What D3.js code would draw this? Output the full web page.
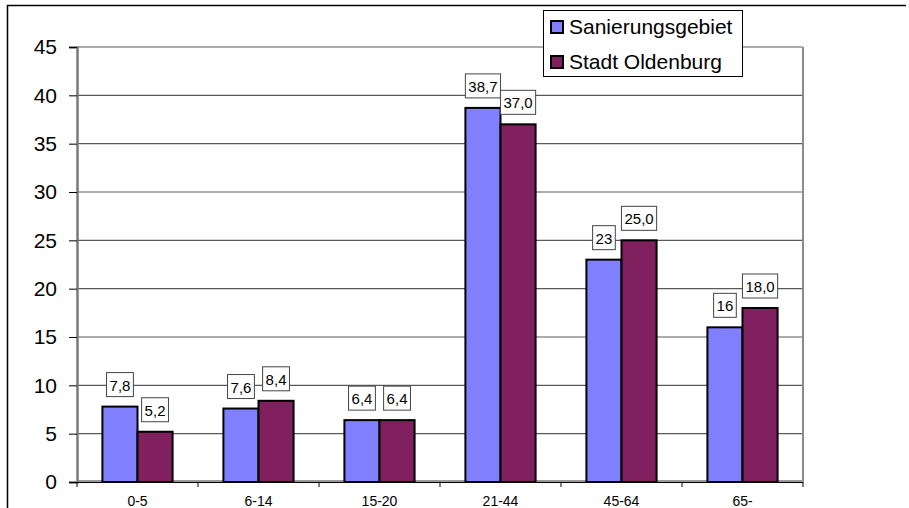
<!DOCTYPE html>
<html>
<head>
<meta charset="utf-8">
<script src="https://cdn.jsdelivr.net/npm/d3@7"></script>
<style>
  body { margin: 0; background: #fff; }
  svg { display: block; font-family: "Liberation Sans", Arial, sans-serif; }
</style>
</head>
<body>
<svg id="chart" width="909" height="508"></svg>
<script>
// data
const categories = ["0-5", "6-14", "15-20", "21-44", "45-64", "65-"];
const series_names = ["Sanierungsgebiet", "Stadt Oldenburg"];
const sanierung = [7.8, 7.6, 6.4, 38.7, 23, 16];
const oldenburg = [5.2, 8.4, 6.4, 37.0, 25.0, 18.0];
const sanierung_labels = ["7,8", "7,6", "6,4", "38,7", "23", "16"];
const oldenburg_labels = ["5,2", "8,4", "6,4", "37,0", "25,0", "18,0"];
const y_ticks = [0, 5, 10, 15, 20, 25, 30, 35, 40, 45];
const colors = ["#8080ff", "#80205f"];

const svg = d3.select("#chart");
const plot = { left: 77, right: 803, top: 47, bottom: 482 };

const x0 = d3.scaleBand()
    .domain(categories)
    .range([plot.left, plot.right])
    .paddingInner(0.42)
    .paddingOuter(0.21);

const x1 = d3.scaleBand()
    .domain([0, 1])
    .range([0, x0.bandwidth()]);

const y = d3.scaleLinear()
    .domain([0, 45])
    .range([plot.bottom, plot.top]);

// outer frame (top + left edge only visible)
svg.append("line")
    .attr("x1", 7).attr("x2", 906).attr("y1", 5.5).attr("y2", 5.5)
    .attr("stroke", "#000").attr("stroke-width", 1.5);
svg.append("line")
    .attr("x1", 7.5).attr("x2", 7.5).attr("y1", 5).attr("y2", 508)
    .attr("stroke", "#000").attr("stroke-width", 1.5);

// gridlines
svg.append("g")
    .selectAll("line")
    .data(y_ticks.slice(1))
    .join("line")
    .attr("x1", plot.left).attr("x2", plot.right)
    .attr("y1", d => y(d)).attr("y2", d => y(d))
    .attr("stroke", "#5a5a5a").attr("stroke-width", 1.2);

// right edge of plot area
svg.append("line")
    .attr("x1", plot.right).attr("x2", plot.right)
    .attr("y1", plot.top).attr("y2", plot.bottom)
    .attr("stroke", "#8c8c8c").attr("stroke-width", 2);

// bottom floor line (gray)
svg.append("line")
    .attr("x1", plot.left).attr("x2", plot.right)
    .attr("y1", plot.bottom - 1).attr("y2", plot.bottom - 1)
    .attr("stroke", "#9a9a9a").attr("stroke-width", 2);

// y axis
const y_axis = svg.append("g")
    .attr("transform", "translate(" + plot.left + ",0)")
    .call(d3.axisLeft(y).tickValues(y_ticks).tickSize(8).tickPadding(12));
y_axis.select(".domain").attr("stroke", "#7a7a7a").attr("stroke-width", 2.5);
y_axis.selectAll(".tick line").attr("stroke", "#000");
y_axis.selectAll("text")
    .attr("font-family", "Liberation Sans, Arial, sans-serif")
    .attr("font-size", 21).attr("fill", "#000");

// bars
const groups = svg.append("g")
    .selectAll("g")
    .data(categories)
    .join("g")
    .attr("transform", d => "translate(" + x0(d) + ",0)");

groups.selectAll("rect")
    .data((d, i) => [sanierung[i], oldenburg[i]])
    .join("rect")
    .attr("x", (d, j) => x1(j))
    .attr("y", d => y(d))
    .attr("width", x1.bandwidth())
    .attr("height", d => plot.bottom - y(d))
    .attr("fill", (d, j) => colors[j])
    .attr("stroke", "#000")
    .attr("stroke-width", 2);

// x axis with ticks between categories
const x_axis = svg.append("g");
x_axis.append("line")
    .attr("x1", plot.left).attr("x2", plot.right)
    .attr("y1", plot.bottom + 0.5).attr("y2", plot.bottom + 0.5)
    .attr("stroke", "#000").attr("stroke-width", 1);
const step = x0.step();
x_axis.selectAll(".sep")
    .data(d3.range(categories.length + 1))
    .join("line")
    .attr("class", "sep")
    .attr("x1", i => plot.left + i * step).attr("x2", i => plot.left + i * step)
    .attr("y1", plot.bottom).attr("y2", plot.bottom + 5)
    .attr("stroke", "#000");
x_axis.selectAll("text")
    .data(categories)
    .join("text")
    .attr("x", d => x0(d) + x0.bandwidth() / 2)
    .attr("y", 506)
    .attr("text-anchor", "middle")
    .attr("font-size", 14)
    .text(d => d);

// value labels in boxes
const labels = [];
categories.forEach((c, i) => {
    labels.push({ x: x0(c) + x1(0) + x1.bandwidth() / 2, v: sanierung[i], t: sanierung_labels[i] });
    labels.push({ x: x0(c) + x1(1) + x1.bandwidth() / 2, v: oldenburg[i], t: oldenburg_labels[i] });
});

const label_g = svg.append("g")
    .selectAll("g")
    .data(labels)
    .join("g")
    .attr("transform", d => "translate(" + d.x + "," + (y(d.v) - 10) + ")");

label_g.append("text")
    .attr("text-anchor", "middle")
    .attr("y", -6)
    .attr("font-size", 15)
    .text(d => d.t);

label_g.each(function() {
    const g = d3.select(this);
    const bb = g.select("text").node().getBBox();
    g.insert("rect", "text")
        .attr("x", bb.x - 3)
        .attr("y", -24)
        .attr("width", bb.width + 6)
        .attr("height", 24)
        .attr("fill", "#fff")
        .attr("stroke", "#444")
        .attr("stroke-width", 1);
});

// legend
const legend = svg.append("g").attr("transform", "translate(543,10)");
legend.append("rect")
    .attr("x", 0.5).attr("y", 0.5)
    .attr("width", 199).attr("height", 66)
    .attr("fill", "#fff").attr("stroke", "#000");
const items = legend.selectAll(".item")
    .data(series_names)
    .join("g")
    .attr("class", "item")
    .attr("transform", (d, i) => "translate(8," + (11 + i * 35) + ")");
items.append("rect")
    .attr("width", 12).attr("height", 12)
    .attr("fill", (d, i) => colors[i])
    .attr("stroke", "#000").attr("stroke-width", 2);
items.append("text")
    .attr("x", 18).attr("y", 13)
    .attr("font-size", 21)
    .text(d => d);
</script>
</body>
</html>
